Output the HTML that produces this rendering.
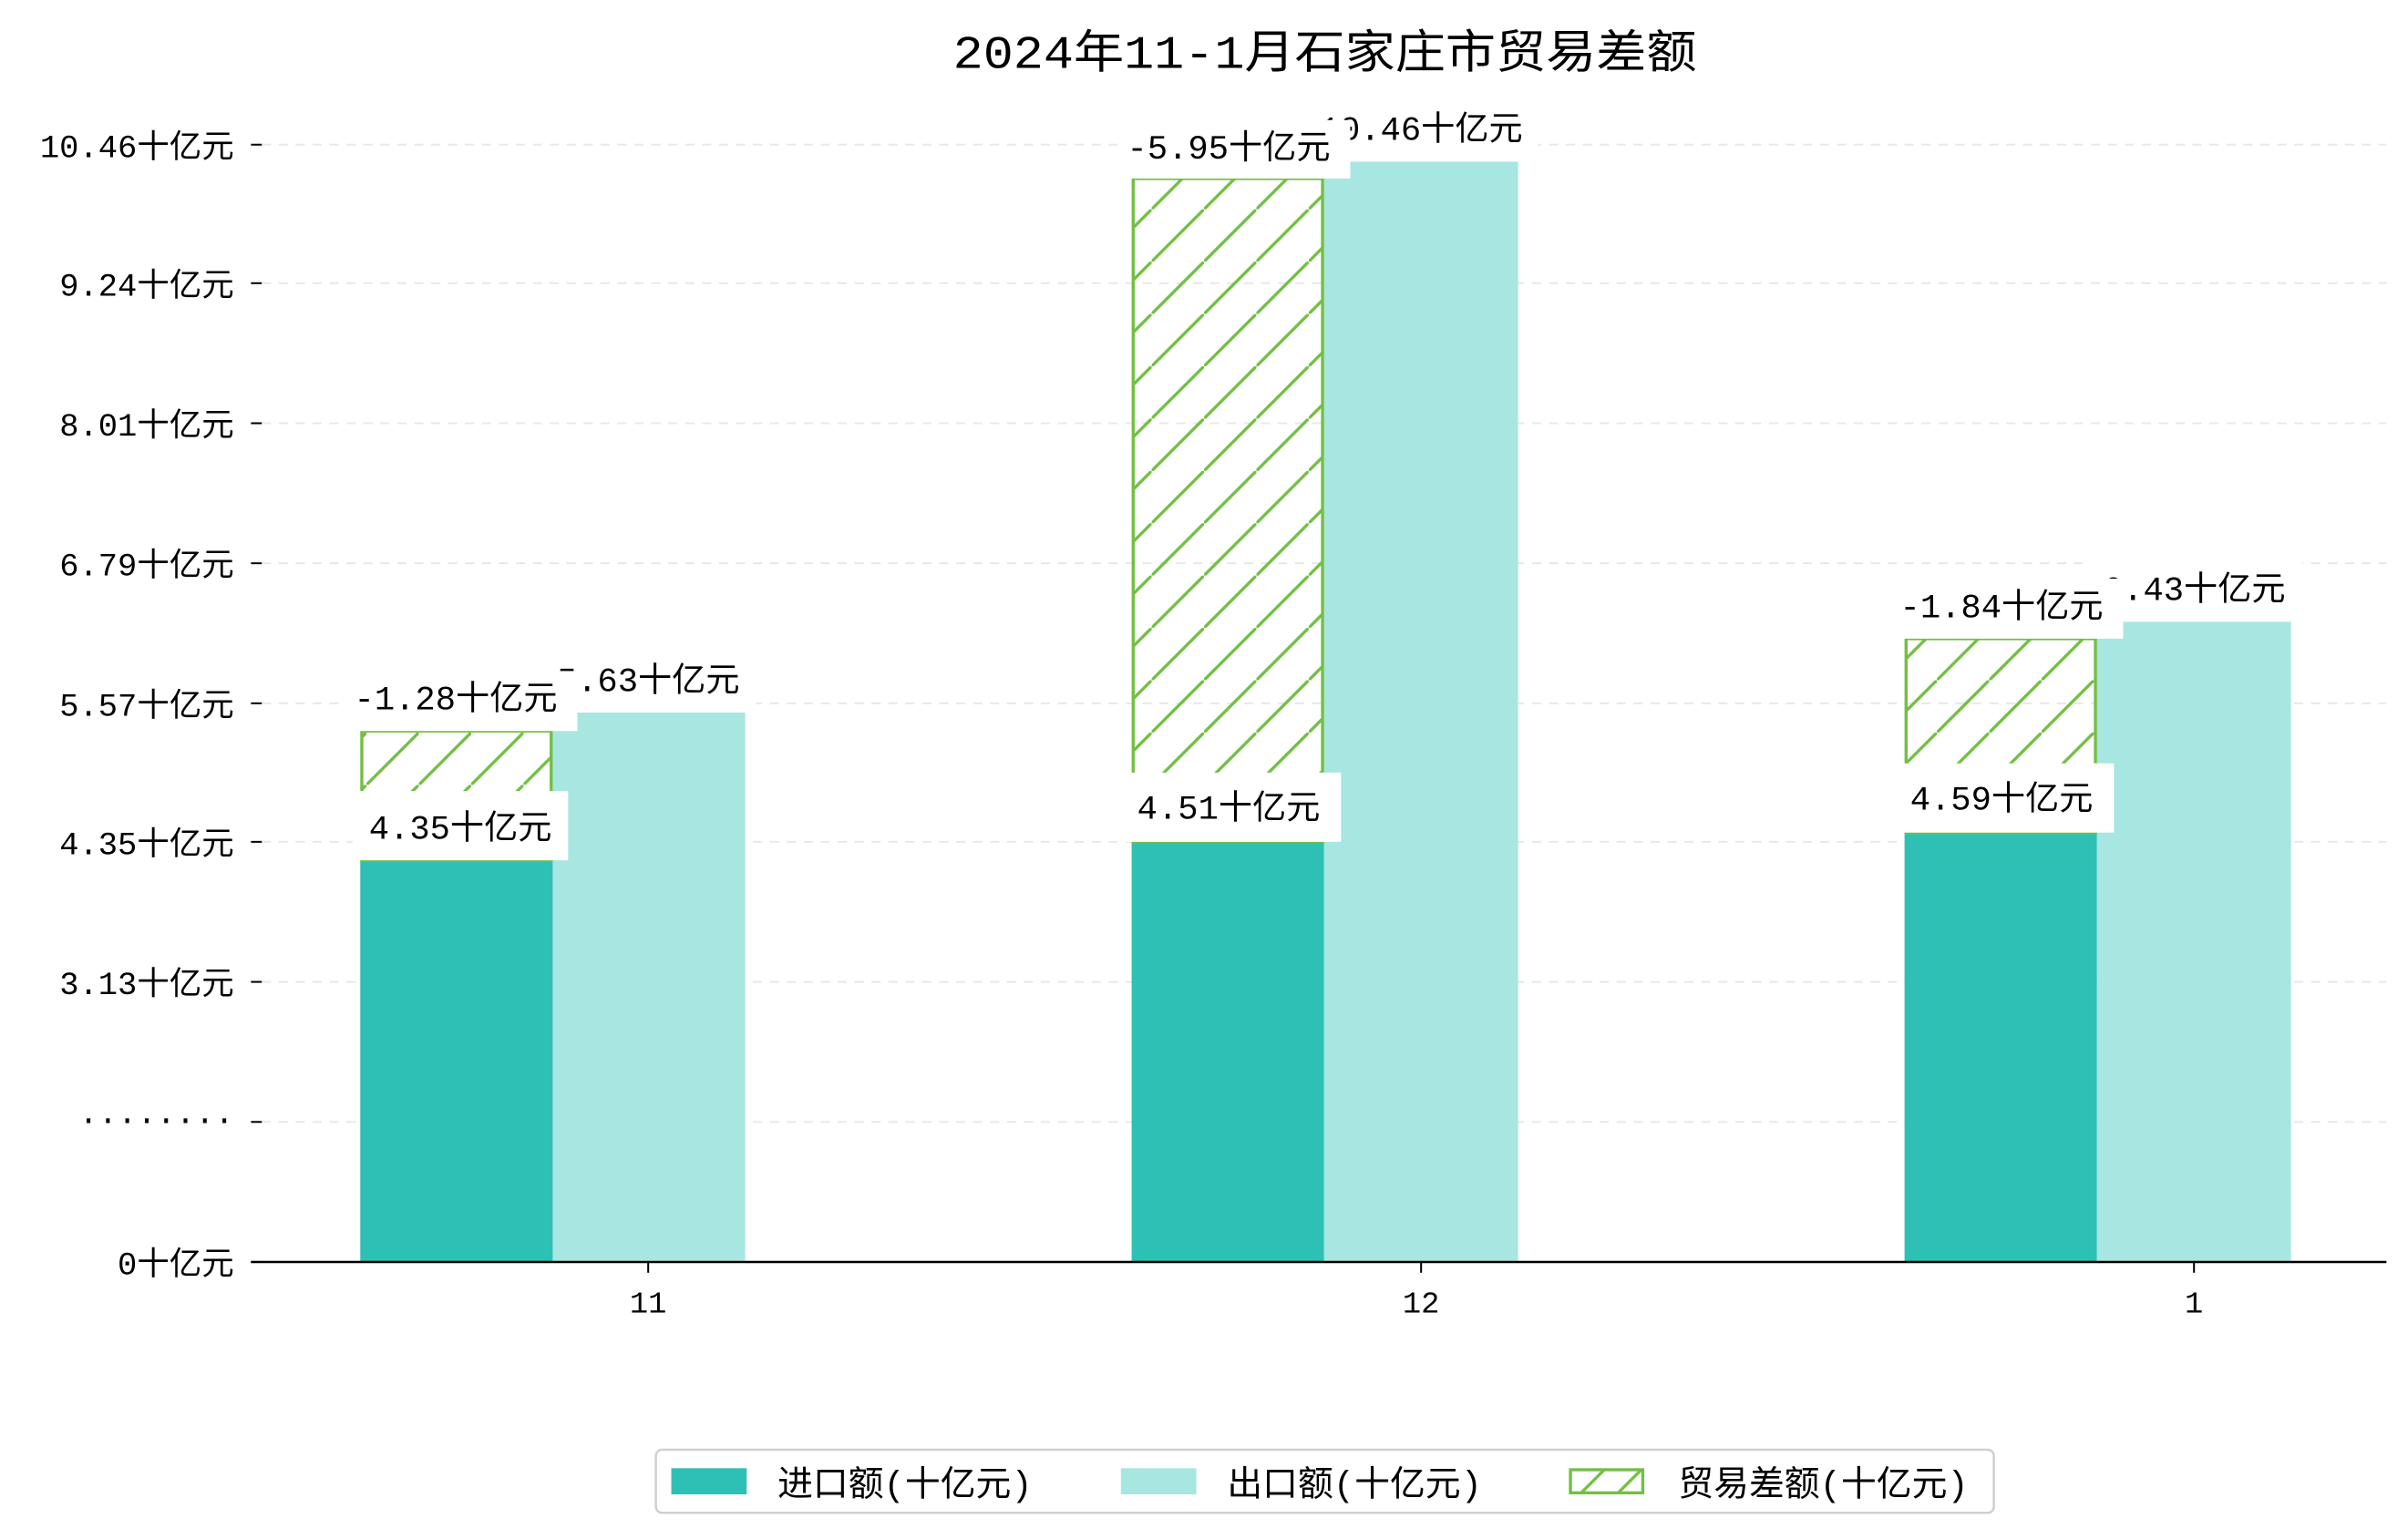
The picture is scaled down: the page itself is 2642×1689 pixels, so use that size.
<!DOCTYPE html>
<html><head><meta charset="utf-8"><style>html,body{margin:0;padding:0;background:#fff}svg{display:block}text{font-family:"Liberation Mono","WenQuanYi Zen Hei","Noto Sans CJK SC",monospace;fill:#000}</style></head>
<body>
<svg width="2642" height="1689" viewBox="0 0 1564 1000" preserveAspectRatio="none" xmlns="http://www.w3.org/2000/svg">
<defs>
<pattern id="h" patternUnits="userSpaceOnUse" width="34" height="34">
<line x1="-2" y1="36" x2="36" y2="-2" stroke="#72BF44" stroke-width="2"/>
</pattern>
<pattern id="h2" patternUnits="userSpaceOnUse" width="24" height="24" x="1019" y="954">
<line x1="0" y1="24" x2="24" y2="0" stroke="#72BF44" stroke-width="2"/>
</pattern>
</defs>
<text x="619" y="44" font-size="30" textLength="483" lengthAdjust="spacingAndGlyphs">2024年11-1月石家庄市贸易差额</text>
<g stroke="#e8e8e8" stroke-width="1.2" stroke-dasharray="6,5">
<line x1="170" y1="729" x2="1550" y2="729"/><line x1="170" y1="638" x2="1550" y2="638"/><line x1="170" y1="547" x2="1550" y2="547"/><line x1="170" y1="457" x2="1550" y2="457"/><line x1="170" y1="366" x2="1550" y2="366"/><line x1="170" y1="275" x2="1550" y2="275"/><line x1="170" y1="184" x2="1550" y2="184"/><line x1="170" y1="94" x2="1550" y2="94"/>
</g>
<g stroke="#000" stroke-width="1.2">
<line x1="163" y1="820" x2="170" y2="820"/><line x1="163" y1="729" x2="170" y2="729"/><line x1="163" y1="638" x2="170" y2="638"/><line x1="163" y1="547" x2="170" y2="547"/><line x1="163" y1="457" x2="170" y2="457"/><line x1="163" y1="366" x2="170" y2="366"/><line x1="163" y1="275" x2="170" y2="275"/><line x1="163" y1="184" x2="170" y2="184"/><line x1="163" y1="94" x2="170" y2="94"/>
<line x1="421" y1="820" x2="421" y2="827"/><line x1="923" y1="820" x2="923" y2="827"/><line x1="1425" y1="820" x2="1425" y2="827"/>
</g>
<g font-size="21" text-anchor="end">
<text x="152" y="828">0十亿元</text><text x="152" y="734">········</text><text x="152" y="646">3.13十亿元</text><text x="152" y="555">4.35十亿元</text><text x="152" y="465">5.57十亿元</text><text x="152" y="374">6.79十亿元</text><text x="152" y="283">8.01十亿元</text><text x="152" y="192">9.24十亿元</text><text x="152" y="102">10.46十亿元</text>
</g>
<rect x="234" y="559" width="125" height="261" fill="#2EC0B4"/>
<rect x="359" y="463" width="125" height="357" fill="#A8E6E1"/>
<rect x="235" y="475" width="123" height="84" fill="url(#h)" stroke="#72BF44" stroke-width="2"/>
<rect x="735" y="547" width="125" height="273" fill="#2EC0B4"/>
<rect x="860" y="105" width="126" height="715" fill="#A8E6E1"/>
<rect x="736" y="116" width="123" height="431" fill="url(#h)" stroke="#72BF44" stroke-width="2"/>
<rect x="1237" y="541" width="125" height="279" fill="#2EC0B4"/>
<rect x="1362" y="404" width="126" height="416" fill="#A8E6E1"/>
<rect x="1238" y="415" width="123" height="126" fill="url(#h)" stroke="#72BF44" stroke-width="2"/>
<line x1="163" y1="820" x2="1550" y2="820" stroke="#000" stroke-width="1.5"/>
<g font-size="22" text-anchor="middle">
<rect x="351" y="422" width="140" height="41" fill="#fff"/><text x="421" y="449">5.63十亿元</text>
<rect x="222" y="436" width="153" height="39" fill="#fff"/><text x="296" y="461">-1.28十亿元</text>
<rect x="229" y="514" width="140" height="45" fill="#fff"/><text x="299" y="545">4.35十亿元</text>
<rect x="847" y="64" width="152" height="41" fill="#fff"/><text x="923" y="91">10.46十亿元</text>
<rect x="726" y="78" width="151" height="38" fill="#fff"/><text x="798" y="103">-5.95十亿元</text>
<rect x="730" y="502" width="141" height="45" fill="#fff"/><text x="798" y="532">4.51十亿元</text>
<rect x="1355" y="363" width="140" height="41" fill="#fff"/><text x="1425" y="390">6.43十亿元</text>
<rect x="1228" y="376" width="151" height="39" fill="#fff"/><text x="1300" y="401">-1.84十亿元</text>
<rect x="1232" y="496" width="141" height="45" fill="#fff"/><text x="1300" y="526">4.59十亿元</text>
</g>
<g font-size="20" text-anchor="middle"><text x="421" y="853">11</text><text x="923" y="853">12</text><text x="1425" y="853">1</text></g>
<rect x="426" y="942" width="869" height="41" rx="4" fill="#fff" stroke="#d0d0d0" stroke-width="1.5"/>
<rect x="436" y="954" width="49" height="17" fill="#2EC0B4"/>
<rect x="728" y="954" width="49" height="17" fill="#A8E6E1"/>
<rect x="1020" y="955" width="47" height="15" fill="url(#h2)" stroke="#72BF44" stroke-width="2"/>
<g font-size="23"><text x="505" y="972">进口额(十亿元)</text><text x="797" y="972">出口额(十亿元)</text><text x="1090" y="972">贸易差额(十亿元)</text></g>
</svg>
</body></html>
